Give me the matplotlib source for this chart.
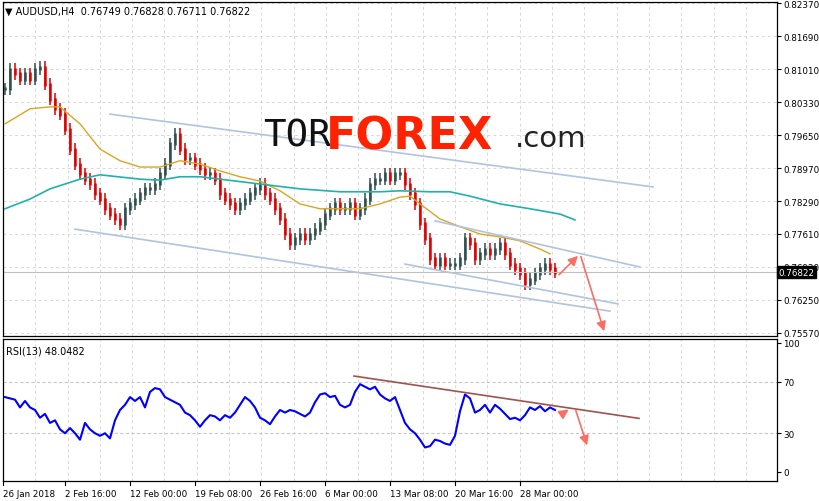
import numpy as np
import matplotlib.pyplot as plt

closes = [.8060, .8101, .8091, .8080, .8091, .8080, .8101, .8105, .8070, .8039,
          .8019, .8008, .7977, .7936, .7905, .7885, .7874, .7864, .7844, .7833,
          .7813, .7802, .7792, .7782, .7813, .7823, .7833, .7844, .7854, .7854,
          .7864, .7885, .7905, .7947, .7967, .7936, .7916, .7916, .7905, .7895,
          .7885, .7885, .7874, .7844, .7833, .7823, .7813, .7823, .7833, .7844,
          .7854, .7864, .7844, .7833, .7813, .7792, .7761, .7741, .7751, .7761,
          .7751, .7761, .7771, .7782, .7802, .7813, .7823, .7813, .7813, .7823,
          .7802, .7813, .7833, .7864, .7874, .7874, .7885, .7874, .7885, .7885,
          .7864, .7844, .7823, .7782, .7751, .7710, .7699, .7710, .7699, .7699,
          .7699, .7710, .7751, .7741, .7710, .7720, .7730, .7720, .7730, .7741,
          .7720, .7699, .7689, .7679, .7658, .7668, .7679, .7689, .7699, .7689,
          .7682]
rsi = [58, 57, 56, 50, 55, 50, 48, 42, 45, 38, 40, 33, 30, 34, 30, 25, 38, 33, 30, 28,
       30, 26, 40, 48, 52, 58, 55, 58, 50, 62, 65, 64, 58, 56, 54, 52, 46, 44, 40, 35,
       40, 44, 43, 40, 44, 42, 46, 52, 58, 55, 50, 42, 40, 37, 43, 48, 46, 48, 47, 45,
       43, 46, 54, 60, 61, 58, 59, 52, 50, 52, 62, 68, 66, 64, 66, 60, 57, 55, 58, 48,
       38, 33, 30, 25, 19, 20, 25, 24, 22, 21, 28, 47, 60, 57, 46, 48, 52, 46, 52, 49,
       45, 41, 42, 40, 44, 50, 48, 51, 47, 50, 48]

ma_fast_t = [5, 30, 50, 60, 80, 100, 120, 140, 160, 180, 200, 220, 240, 260, 280, 300,
             320, 340, 360, 380, 400, 410, 420, 440, 460, 480, 500, 520, 540, 550]
ma_fast = [.7988, .8019, .8023, .8023, .7988, .7936, .7912, .7899, .7899, .7912, .7905,
           .7891, .7879, .7870, .7850, .7823, .7813, .7813, .7813, .7823, .7837, .7839,
           .7823, .7792, .7776, .7761, .7755, .7747, .7730, .7720]
ma_slow_t = [5, 30, 50, 80, 100, 140, 160, 180, 200, 220, 260, 300, 340, 380, 400, 430,
             450, 470, 500, 530, 560, 575]
ma_slow = [.7813, .7833, .7854, .7874, .7883, .7874, .7872, .7879, .7879, .7874, .7864,
           .7854, .7848, .7848, .7850, .7848, .7848, .7839, .7823, .7813, .7802, .7790]

channels = [((110, .8008), (653, .7858)), ((75, .7771), (610, .7602)),
            ((435, .7788), (640, .7693)), ((405, .7699), (618, .7617))]
price_arrows = [((557, .7673), (580, .7720)), ((580, .7720), (605, .7555))]
rsi_trend = ((354, 74.3), (639, 41.5))
rsi_arrows = [((559, 43.2), (571, 49.6)), ((575, 49.6), (588, 18.5))]

price_ticks = [0.82370, 0.81690, 0.81010, 0.80330, 0.79650, 0.78970, 0.78290,
               0.77610, 0.76930, 0.76250, 0.75570]
time_pos = [3, 65, 130, 195, 260, 325, 390, 455, 520]
time_labels = ['26 Jan 2018', '2 Feb 16:00', '12 Feb 00:00', '19 Feb 08:00', '26 Feb 16:00',
               '6 Mar 00:00', '13 Mar 08:00', '20 Mar 16:00', '28 Mar 00:00']
grid_x = [3 + 32.3 * i for i in range(24)]

W, H = 820, 502
fig = plt.figure(figsize=(8.2, 5.02), dpi=100)
ax = fig.add_axes([3 / W, 1 - 337 / H, 774 / W, 334 / H])
ax2 = fig.add_axes([3 / W, 1 - 482 / H, 774 / W, 142 / H])

for a in (ax, ax2):
    a.set_xlim(3, 777)
    for x in grid_x:
        a.axvline(x, color='#d8d8d8', lw=0.7, ls=(0, (3, 3)), zorder=0)
    a.yaxis.tick_right()
    a.tick_params(labelsize=6.3, length=3, pad=1.5, direction='out')
    a.set_xticks([])
    for s in a.spines.values():
        s.set_linewidth(0.9)

ax.set_ylim(0.75508, 0.82391)
ax.set_yticks(price_ticks)
ax.set_yticklabels(['%.5f' % p for p in price_ticks])
for p in price_ticks:
    ax.axhline(p, color='#d8d8d8', lw=0.7, ls=(0, (3, 3)), zorder=0)

bx = 5 + 5 * np.arange(len(closes))
opens = [closes[0]] + closes[:-1]
for x, o, c in zip(bx, opens, closes):
    col = '#2f4f4f' if c >= o else '#e00000'
    ax.vlines(x, min(o, c) - 0.0012, max(o, c) + 0.0012, color=col, lw=1.1)
    ax.vlines(x, min(o, c) - 0.0003, max(o, c) + 0.0003, color=col, lw=1.8)

ax.plot(ma_fast_t, ma_fast, color='#daa520', lw=1)
ax.plot(ma_slow_t, ma_slow, color='#20b2aa', lw=1.2)
for (x0, y0), (x1, y1) in channels:
    ax.plot([x0, x1], [y0, y1], color='#b0c4de', lw=1.2)
for (x0, y0), (x1, y1) in price_arrows:
    ax.annotate('', xy=(x1, y1), xytext=(x0, y0),
                arrowprops=dict(arrowstyle='-|>', color='#fa6e64', lw=1.2, mutation_scale=14))

ax.axhline(0.76822, color='#c0c0c0', lw=0.8)
ax.text(1.002, 0.76822, '0.76822', transform=ax.get_yaxis_transform(), fontsize=6.3,
        color='white', va='center', ha='left',
        bbox=dict(boxstyle='square,pad=0.15', fc='black', ec='black'),
        clip_on=False)
ax.text(5, 0.8222, '▼ AUDUSD,H4  0.76749 0.76828 0.76711 0.76822', fontsize=7, va='center')

ax.text(263, 0.7963, 'TOR', fontsize=27, family='DejaVu Sans Mono', va='center', color='#111111')
ax.text(326, 0.7963, 'FOREX', fontsize=32, fontweight='bold', va='center', color='#ff2200')
ax.text(515, 0.7958, '.com', fontsize=21, va='center', color='#222222')

ax2.set_ylim(-7, 103)
ax2.set_yticks([0, 30, 70, 100])
for v in (30, 70):
    ax2.axhline(v, color='#c8c8c8', lw=0.8, ls=(0, (3, 2)), zorder=0)
rx = 5 + 5 * np.arange(len(rsi))
ax2.plot(rx, rsi, color='#0000ff', lw=1.5)
ax2.plot([rsi_trend[0][0], rsi_trend[1][0]], [rsi_trend[0][1], rsi_trend[1][1]],
         color='#a0524d', lw=1.2)
for (x0, y0), (x1, y1) in rsi_arrows:
    ax2.annotate('', xy=(x1, y1), xytext=(x0, y0),
                 arrowprops=dict(arrowstyle='-|>', color='#fa6e64', lw=1.2, mutation_scale=14))
ax2.text(6, 94, 'RSI(13) 48.0482', fontsize=7, va='center')

for x, lab in zip(time_pos, time_labels):
    ax2.axvline(x, ymin=-0.03, ymax=0, color='black', lw=0.8, clip_on=False)
    ax2.text(x, -13, lab, fontsize=6.3, va='top', ha='left', clip_on=False)

fig.savefig('out.png', dpi=100)
